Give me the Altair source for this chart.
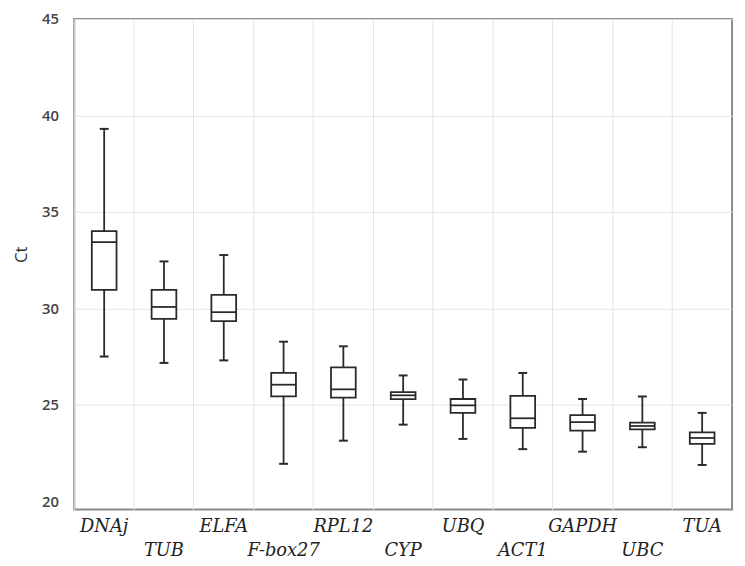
import altair as alt
import pandas as pd

categories = ["DNAj", "TUB", "ELFA", "F-box27", "RPL12", "CYP", "UBQ", "ACT1", "GAPDH", "UBC", "TUA"]
whisker_low = [27.5, 27.17, 27.3, 21.94, 23.14, 23.97, 23.23, 22.7, 22.57, 22.8, 21.88]
q1 = [30.95, 29.45, 29.34, 25.43, 25.37, 25.29, 24.58, 23.8, 23.66, 23.73, 22.97]
median = [33.43, 30.07, 29.8, 26.04, 25.8, 25.49, 24.97, 24.3, 24.1, 23.9, 23.28]
q3 = [34.0, 30.96, 30.7, 26.65, 26.94, 25.66, 25.3, 25.46, 24.46, 24.07, 23.57]
whisker_high = [39.3, 32.43, 32.76, 28.27, 28.03, 26.52, 26.31, 26.65, 25.3, 25.43, 24.58]
y_ticks = [20, 25, 30, 35, 40, 45]

df = pd.DataFrame({
    "gene": categories,
    "lo": whisker_low,
    "q1": q1,
    "med": median,
    "q3": q3,
    "hi": whisker_high,
    "row": [i % 2 for i in range(len(categories))],
})

W, H = 665, 496
line_col = "#2a2a2a"
lab_font = "DejaVu Serif"

x_enc = alt.X("gene:N", sort=categories,
              scale=alt.Scale(paddingInner=0, paddingOuter=0),
              axis=alt.Axis(title=None, labels=False, ticks=False, domain=False,
                            grid=True, bandPosition=0, gridColor="#e4e4e4", gridWidth=1))
y_scale = alt.Scale(domain=[19.57, 45], nice=False, zero=False)
y_axis = alt.Axis(title="Ct", values=y_ticks, ticks=False, domain=False,
                  grid=True,
                  gridColor=alt.condition("datum.value == 20", alt.value("transparent"), alt.value("#e4e4e4")),
                  labelFont="Open Sans", labelFontSize=15, labelFontWeight=600,
                  labelColor="#444", labelPadding=16,
                  titleFont="Open Sans", titleFontSize=17, titleColor="#333", titleFontWeight="normal",
                  titleX=-53, titleY=238, titleBaseline="middle", titleAngle=270)

base = alt.Chart(df)

whisk = base.mark_rule(color=line_col, strokeWidth=1.8).encode(
    x=x_enc,
    y=alt.Y("lo:Q", scale=y_scale, axis=y_axis),
    y2="hi:Q",
)
box = base.mark_bar(size=25, fill="white", stroke=line_col, strokeWidth=1.8).encode(
    x=alt.X("gene:N", sort=categories),
    y=alt.Y("q1:Q"),
    y2="q3:Q",
)
med_tick = base.mark_tick(size=25, thickness=1.8, color=line_col, opacity=1).encode(
    x=alt.X("gene:N", sort=categories),
    y=alt.Y("med:Q"),
)
cap_lo = base.mark_tick(size=9, thickness=2, color=line_col, opacity=1).encode(
    x=alt.X("gene:N", sort=categories),
    y=alt.Y("lo:Q"),
)
cap_hi = base.mark_tick(size=9, thickness=2, color=line_col, opacity=1).encode(
    x=alt.X("gene:N", sort=categories),
    y=alt.Y("hi:Q"),
)

lab_top = base.mark_text(font=lab_font, fontStyle="italic", fontSize=18,
                         color="#222", baseline="middle", align="center").encode(
    x=alt.X("gene:N", sort=categories),
    y=alt.value(H + 18),
    text="gene:N",
).transform_filter("datum.row == 0")
lab_bot = base.mark_text(font=lab_font, fontStyle="italic", fontSize=18,
                         color="#222", baseline="middle", align="center").encode(
    x=alt.X("gene:N", sort=categories),
    y=alt.value(H + 42),
    text="gene:N",
).transform_filter("datum.row == 1")

chart = alt.layer(whisk, box, med_tick, cap_lo, cap_hi, lab_top, lab_bot).properties(
    width=W, height=H,
    autosize=alt.AutoSizeParams(type="none"),
    padding={"left": 67, "top": 8, "right": 5, "bottom": 50},
    background="white",
).configure_view(stroke="#8a8a8a", strokeWidth=2)

chart.save("out.html", embed_options={"renderer": "svg", "actions": False})
